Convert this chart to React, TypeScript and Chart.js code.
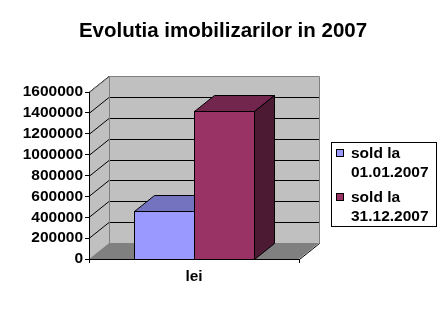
import React, { useEffect, useRef } from "react";
import { Chart, registerables } from "chart.js";

Chart.register(...registerables);

const TITLE = "Evolutia imobilizarilor in 2007";
const CATEGORIES = ["lei"];
const LEGEND_LINES = [["sold la", "01.01.2007"], ["sold la", "31.12.2007"]];
const SOLD_01_01_2007 = [460000];
const SOLD_31_12_2007 = [1420000];
const Y_MIN = 0;
const Y_MAX = 1600000;
const Y_STEP = 200000;

const FRONT = ["#9999FF", "#993366"];
const TOP = ["#7373C0", "#73264D"];
const SIDE = ["#4D4D80", "#4D1A33"];

const DX = 20;
const DY = 16;
const FONT = "'Liberation Sans', Arial, sans-serif";
const FS = 15.5;

const threeD = {
  id: "threeD",
  beforeDraw(chart: any) {
    const ctx = chart.ctx;
    const { left, right, top, bottom } = chart.chartArea;
    const y = chart.scales.y;
    ctx.save();
    ctx.fillStyle = "#fff";
    ctx.fillRect(0, 0, chart.width, chart.height);
    ctx.fillStyle = "#C0C0C0";
    ctx.fillRect(left + DX, top - DY, right - left, bottom - top);
    ctx.beginPath();
    ctx.moveTo(left, bottom);
    ctx.lineTo(left, top);
    ctx.lineTo(left + DX, top - DY);
    ctx.lineTo(left + DX, bottom - DY);
    ctx.closePath();
    ctx.fill();
    ctx.fillStyle = "#808080";
    ctx.beginPath();
    ctx.moveTo(left, bottom);
    ctx.lineTo(left + DX, bottom - DY);
    ctx.lineTo(right + DX, bottom - DY);
    ctx.lineTo(right, bottom);
    ctx.closePath();
    ctx.fill();
    ctx.strokeStyle = "#000";
    ctx.lineWidth = 1;
    for (let v = Y_MIN + Y_STEP; v <= Y_MAX; v += Y_STEP) {
      const py = Math.round(y.getPixelForValue(v)) + 0.5;
      ctx.beginPath();
      ctx.moveTo(left, py);
      ctx.lineTo(left + DX, py - DY);
      if (v < Y_MAX) ctx.lineTo(right + DX, py - DY);
      ctx.stroke();
    }
    ctx.strokeStyle = "#808080";
    ctx.beginPath();
    ctx.moveTo(left + 0.5, top + 0.5);
    ctx.lineTo(left + DX + 0.5, top - DY + 0.5);
    ctx.lineTo(right + DX + 0.5, top - DY + 0.5);
    ctx.lineTo(right + DX + 0.5, bottom - DY + 0.5);
    ctx.stroke();
    ctx.beginPath();
    ctx.moveTo(left + DX + 0.5, top - DY);
    ctx.lineTo(left + DX + 0.5, bottom - DY);
    ctx.stroke();
    ctx.strokeStyle = "#000";
    ctx.beginPath();
    ctx.moveTo(right + 0.5, bottom + 0.5);
    ctx.lineTo(right + DX + 0.5, bottom - DY + 0.5);
    ctx.stroke();
    ctx.restore();
  },
  afterDatasetsDraw(chart: any) {
    const ctx = chart.ctx;
    ctx.save();
    ctx.strokeStyle = "#000";
    ctx.lineWidth = 1;
    chart.data.datasets.forEach((ds: any, i: number) => {
      const meta = chart.getDatasetMeta(i);
      meta.data.forEach((el: any) => {
        const l = Math.round(el.x - el.width / 2) + 0.5;
        const r = Math.round(el.x + el.width / 2) + 0.5;
        const t = Math.round(el.y) + 0.5;
        const b = Math.round(el.base) + 0.5;
        ctx.fillStyle = FRONT[i];
        ctx.beginPath();
        ctx.rect(l, t, r - l, b - t);
        ctx.fill();
        ctx.stroke();
        ctx.fillStyle = TOP[i];
        ctx.beginPath();
        ctx.moveTo(l, t);
        ctx.lineTo(l + DX, t - DY);
        ctx.lineTo(r + DX, t - DY);
        ctx.lineTo(r, t);
        ctx.closePath();
        ctx.fill();
        ctx.stroke();
        ctx.fillStyle = SIDE[i];
        ctx.beginPath();
        ctx.moveTo(r, t);
        ctx.lineTo(r + DX, t - DY);
        ctx.lineTo(r + DX, b - DY);
        ctx.lineTo(r, b);
        ctx.closePath();
        ctx.fill();
        ctx.stroke();
      });
    });
    ctx.restore();
  },
  afterDraw(chart: any) {
    const ctx = chart.ctx;
    ctx.save();
    ctx.fillStyle = "#000";
    ctx.textAlign = "center";
    ctx.textBaseline = "alphabetic";
    ctx.font = `bold 20.5px ${FONT}`;
    ctx.fillText(TITLE, 223, 37);
    const bx = 331.5, by = 142.5, bw = 105, bh = 84;
    ctx.fillStyle = "#fff";
    ctx.fillRect(bx, by, bw, bh);
    ctx.strokeStyle = "#000";
    ctx.lineWidth = 1;
    ctx.strokeRect(bx, by, bw, bh);
    ctx.textAlign = "left";
    ctx.font = `bold ${FS}px ${FONT}`;
    chart.data.datasets.forEach((ds: any, i: number) => {
      const base = 158 + i * 44;
      ctx.fillStyle = FRONT[i];
      ctx.fillRect(336.5, base - 8.5, 7, 7);
      ctx.strokeRect(336.5, base - 8.5, 7, 7);
      ctx.fillStyle = "#000";
      const lines: string[] = ds.legendLines;
      lines.forEach((ln, k) => ctx.fillText(ln, 351, base + k * 19));
    });
    ctx.restore();
  },
};

export default function App() {
  const ref = useRef<HTMLCanvasElement>(null);
  useEffect(() => {
    const chart = new Chart(ref.current as HTMLCanvasElement, {
      type: "bar",
      data: {
        labels: CATEGORIES,
        datasets: [
          {
            label: LEGEND_LINES[0].join(" "),
            legendLines: LEGEND_LINES[0],
            data: SOLD_01_01_2007,
            backgroundColor: FRONT[0],
          } as any,
          {
            label: LEGEND_LINES[1].join(" "),
            legendLines: LEGEND_LINES[1],
            data: SOLD_31_12_2007,
            backgroundColor: FRONT[1],
          } as any,
        ],
      },
      options: {
        responsive: false,
        animation: false,
        devicePixelRatio: 1,
        categoryPercentage: 0.567,
        barPercentage: 1,
        layout: { padding: { left: 8, right: 147, top: 92, bottom: 32 } },
        plugins: {
          legend: { display: false },
          title: { display: false },
          tooltip: { enabled: false },
        },
        scales: {
          x: {
            offset: true,
            afterFit: (s: any) => {
              s.height = 30;
            },
            grid: {
              offset: true,
              drawOnChartArea: false,
              drawTicks: true,
              tickLength: 4,
              color: "#000",
            },
            border: { display: true, color: "#000" },
            ticks: {
              color: "#000",
              padding: 4,
              font: { family: FONT, size: FS, weight: "bold" },
            },
          },
          y: {
            min: Y_MIN,
            max: Y_MAX,
            afterFit: (s: any) => {
              s.width = 81;
            },
            grid: {
              drawOnChartArea: false,
              drawTicks: true,
              tickLength: 4,
              color: "#000",
            },
            border: { display: true, color: "#000" },
            ticks: {
              stepSize: Y_STEP,
              autoSkip: false,
              color: "#000",
              padding: 2,
              font: { family: FONT, size: FS, weight: "bold" },
              callback: (v: any) => String(v),
            },
          },
        },
      } as any,
      plugins: [threeD],
    });
    return () => chart.destroy();
  }, []);
  return (
    <div style={{ position: "absolute", left: 0, top: 0, width: 446, height: 321 }}>
      <canvas ref={ref} width={446} height={321} style={{ display: "block" }} />
    </div>
  );
}
